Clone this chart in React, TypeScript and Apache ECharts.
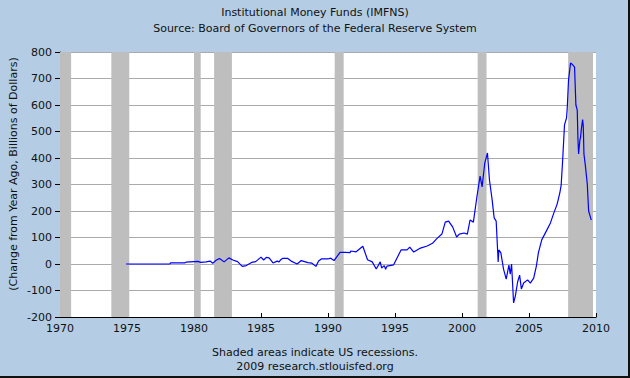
import React, { useEffect, useRef } from "react";
import * as echarts from "echarts";

const titleLines = ["Institutional Money Funds (IMFNS)", "Source: Board of Governors of the Federal Reserve System"];
const footerLines = ["Shaded areas indicate US recessions.", "2009 research.stlouisfed.org"];
const yAxisTitle = "(Change from Year Ago, Billions of Dollars)";

const years = [
  1974.93, 1975.5, 1976.5, 1977.5, 1978.2, 1978.25, 1979.3, 1979.4, 1980.0, 1980.3,
  1980.5, 1980.9, 1981.2, 1981.4, 1981.65, 1981.9, 1982.25, 1982.6, 1982.9, 1983.25,
  1983.6, 1983.9, 1984.3, 1984.6, 1985.0, 1985.2, 1985.4, 1985.6, 1985.9, 1986.2,
  1986.35, 1986.45, 1986.6, 1987.0, 1987.25, 1987.7, 1988.0, 1988.25, 1988.5, 1988.8,
  1989.1, 1989.3, 1989.5, 1990.0, 1990.2, 1990.45, 1990.9, 1991.3, 1991.65, 1991.7,
  1992.1, 1992.6, 1992.95, 1993.3, 1993.6, 1993.9, 1994.0, 1994.2, 1994.3, 1994.4,
  1994.9, 1995.45, 1995.9, 1996.1, 1996.4, 1996.9, 1997.4, 1997.8, 1998.1, 1998.5,
  1998.75, 1999.0, 1999.3, 1999.6, 1999.8, 2000.15, 2000.4, 2000.6, 2000.85, 2001.1,
  2001.35, 2001.5, 2001.7, 2001.9, 2002.05, 2002.25, 2002.4, 2002.55, 2002.7, 2002.75,
  2002.9, 2003.1, 2003.3, 2003.5, 2003.6, 2003.7, 2003.85, 2003.98, 2004.15, 2004.3,
  2004.43, 2004.6, 2004.9, 2005.1, 2005.35, 2005.55, 2005.7, 2005.95, 2006.3, 2006.6,
  2006.85, 2007.1, 2007.3, 2007.4, 2007.5, 2007.65, 2007.8, 2007.85, 2007.95, 2008.1,
  2008.2, 2008.4, 2008.5, 2008.6, 2008.65, 2008.7, 2008.8, 2008.85, 2008.9, 2009.0,
  2009.05, 2009.1, 2009.2, 2009.35, 2009.45, 2009.6, 2009.65,
];

const values = [
  0, 0, 0, 0, 0, 4, 4, 7, 9, 10,
  6, 8, 11, 3, 14, 21, 8, 23, 15, 9,
  -9, -6, 6, 9, 26, 15, 25, 23, 4, 11,
  8, 15, 21, 21, 11, 0, 13, 9, 5, 3,
  -9, 11, 19, 19, 22, 13, 44, 44, 43, 49,
  46, 67, 16, 8, -19, 8, -15, -6, -20, -8,
  -3, 53, 53, 64, 45, 60, 68, 78, 95, 113,
  158, 162, 140, 102, 113, 117, 113, 166, 158, 249,
  332, 291, 381, 419, 317, 242, 174, 162, 8, 53,
  42, -19, -57, -4, -38, 0, -147, -121, -68, -42,
  -94, -72, -60, -72, -53, -8, 42, 91, 125, 155,
  192, 226, 268, 298, 381, 525, 551, 585, 694, 758,
  755, 743, 600, 581, 475, 415, 468, 479, 506, 545,
  521, 415, 374, 302, 200, 174, 166,
];

const recessionStarts = [1969.92, 1973.83, 1980.0, 1981.5, 1990.5, 2001.17, 2007.92];
const recessionEnds = [1970.83, 1975.17, 1980.5, 1982.83, 1991.17, 2001.83, 2009.78];

const FONT = "DejaVu Sans";
const BG = "#b4cde4";

export default function App() {
  const ref = useRef<HTMLDivElement>(null);

  useEffect(() => {
    if (!ref.current) return;
    const chart = echarts.init(ref.current, undefined, { renderer: "svg" });
    const lineData = years.map((y, i) => [y, values[i]]);
    const areas = recessionStarts.map((s, i) => [
      { xAxis: Math.max(s, 1970) },
      { xAxis: recessionEnds[i] },
    ]);
    const textStyle = { align: "center", verticalAlign: "middle", fontSize: 11, fontFamily: FONT, fill: "#111" };
    chart.setOption({
      animation: false,
      backgroundColor: BG,
      textStyle: { fontFamily: FONT },
      grid: {
        left: 60,
        top: 52,
        width: 536,
        height: 265,
        show: true,
        backgroundColor: "#ffffff",
        borderWidth: 0,
      },
      xAxis: {
        type: "value",
        min: 1970,
        max: 2010,
        interval: 5,
        axisLine: { show: true, onZero: false, lineStyle: { color: "#000", width: 1 } },
        axisTick: { show: true, inside: true, length: 4, lineStyle: { color: "#000" } },
        axisLabel: {
          color: "#111",
          fontSize: 11,
          fontFamily: FONT,
          margin: 6,
          formatter: (v: number) => String(v),
        },
        splitLine: { show: false },
      },
      yAxis: {
        type: "value",
        min: -200,
        max: 800,
        interval: 100,
        axisLine: { show: true, lineStyle: { color: "#000", width: 1 } },
        axisTick: { show: true, inside: false, length: 5, lineStyle: { color: "#000" } },
        axisLabel: { color: "#111", fontSize: 11, fontFamily: FONT, margin: 8 },
        splitLine: { show: true, lineStyle: { color: "#aaaaaa", width: 1 } },
      },
      series: [
        {
          type: "line",
          data: lineData,
          showSymbol: false,
          symbol: "none",
          lineStyle: { color: "#0000ff", width: 1.2 },
          z: 3,
          markArea: {
            silent: true,
            itemStyle: { color: "#bebebe", opacity: 1 },
            data: areas,
          },
        },
      ],
      graphic: [
        { type: "text", x: 315, y: 12, style: { ...textStyle, text: titleLines[0] } },
        { type: "text", x: 315, y: 28, style: { ...textStyle, text: titleLines[1] } },
        { type: "text", x: 13, y: 174, rotation: Math.PI / 2, style: { ...textStyle, text: yAxisTitle } },
        { type: "text", x: 315, y: 352, style: { ...textStyle, text: footerLines[0] } },
        { type: "text", x: 315, y: 366, style: { ...textStyle, text: footerLines[1] } },
        {
          type: "line",
          shape: { x1: 629, y1: 0, x2: 629, y2: 378 },
          style: { stroke: "#111", lineWidth: 2 },
        },
        {
          type: "line",
          shape: { x1: 0, y1: 377, x2: 630, y2: 377 },
          style: { stroke: "#111", lineWidth: 2 },
        },
      ],
    });
    return () => chart.dispose();
  }, []);

  return (
    <div
      ref={ref}
      style={{ position: "fixed", left: 0, top: 0, width: 630, height: 378 }}
    />
  );
}
